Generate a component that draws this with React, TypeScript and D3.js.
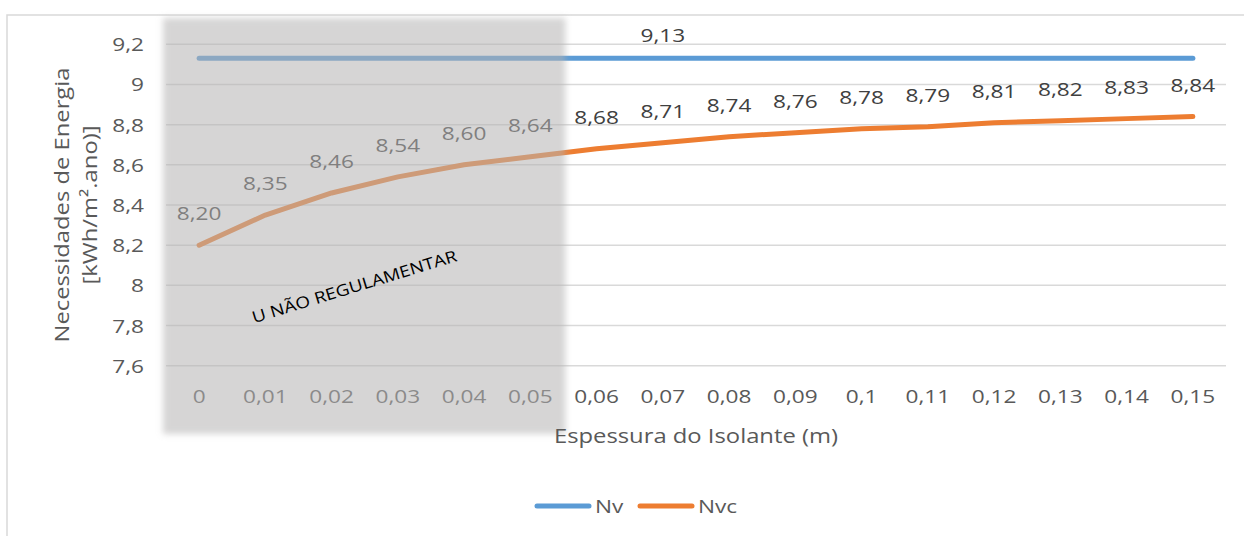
import React from "react";
import * as d3 from "d3";

const categories: string[] = ["0","0,01","0,02","0,03","0,04","0,05","0,06","0,07","0,08","0,09","0,1","0,11","0,12","0,13","0,14","0,15"];
const nvValues: number[] = [9.13,9.13,9.13,9.13,9.13,9.13,9.13,9.13,9.13,9.13,9.13,9.13,9.13,9.13,9.13,9.13];
const nvcValues: number[] = [8.20,8.35,8.46,8.54,8.60,8.64,8.68,8.71,8.74,8.76,8.78,8.79,8.81,8.82,8.83,8.84];
const yTicks: number[] = [7.6,7.8,8.0,8.2,8.4,8.6,8.8,9.0,9.2];
const nvLabelIndex = 7;
const shadedCategories: string[] = ["0","0,01","0,02","0,03","0,04","0,05"];

const W = 1244, H = 536;
const FONT = "'Open Sans', sans-serif";
const SX = 1.19;
const fmtTick = (v: number) => d3.format("~r")(+v.toFixed(1)).replace(".", ",");
const fmtLabel = (v: number) => v.toFixed(2).replace(".", ",");

function T(props: { x: number; y: number; anchor?: string; size?: number; fill?: string; rotate?: number; children: React.ReactNode }) {
  const { x, y, anchor = "start", size = 19, fill = "#595959", rotate = 0, children } = props;
  return (
    <g transform={`translate(${x},${y}) rotate(${rotate}) scale(${SX},1)`}>
      <text x={0} y={0} textAnchor={anchor} fontFamily={FONT} fontSize={size} fill={fill}>
        {children}
      </text>
    </g>
  );
}

export default function App() {
  const x = d3.scaleBand<string>().domain(categories).range([166, 1226]).padding(0);
  const y = d3.scaleLinear().domain([7.6, 9.2]).range([365.7, 44.3]);
  const cx = (i: number) => (x(categories[i]) as number) + x.bandwidth() / 2;
  const line = d3.line<number>().x((_, i) => cx(i)).y((d) => y(d));

  const boxLeft = (x(shadedCategories[0]) as number) - 3;
  const boxRight = (x(shadedCategories[shadedCategories.length - 1]) as number) + x.bandwidth() + 2;

  return (
    <svg width={W} height={H} style={{ position: "absolute", left: 0, top: 0, background: "#fff" }}>
      <defs>
        <filter id="soft" x="-10%" y="-10%" width="120%" height="120%">
          <feGaussianBlur stdDeviation="3" />
        </filter>
      </defs>
      <rect x={7} y={15} width={W} height={H} fill="#fff" stroke="#d9d9d9" strokeWidth={1.5} />
      {yTicks.map((t) => (
        <line key={"g" + t} x1={166} x2={1226} y1={y(t)} y2={y(t)} stroke="#d9d9d9" strokeWidth={1.5} />
      ))}
      {yTicks.map((t) => (
        <T key={"t" + t} x={144} y={y(t) + 7} anchor="end">{fmtTick(t)}</T>
      ))}
      {categories.map((c, i) => (
        <T key={"x" + c} x={cx(i)} y={403} anchor="middle">{c}</T>
      ))}
      <path d={line(nvValues) as string} fill="none" stroke="#5b9bd5" strokeWidth={5} strokeLinecap="round" strokeLinejoin="round" />
      <path d={line(nvcValues) as string} fill="none" stroke="#ed7d31" strokeWidth={5} strokeLinecap="round" strokeLinejoin="round" />
      {nvcValues.map((v, i) => (
        <T key={"l" + i} x={cx(i)} y={y(v) - 25} anchor="middle" fill="#404040">{fmtLabel(v)}</T>
      ))}
      <T x={cx(nvLabelIndex)} y={y(nvValues[nvLabelIndex]) - 16} anchor="middle" fill="#404040">
        {fmtLabel(nvValues[nvLabelIndex])}
      </T>
      <rect x={boxLeft} y={18} width={boxRight - boxLeft} height={416} fill="rgb(180,178,179)" fillOpacity={0.55} filter="url(#soft)" />
      <T x={356} y={292} rotate={-17} anchor="middle" size={16} fill="#000">U NÃO REGULAMENTAR</T>
      <T x={696} y={443} anchor="middle" size={20}>Espessura do Isolante (m)</T>
      <g transform="translate(0,0)">
        <g transform="translate(69,205) rotate(-90) scale(1.19,1)">
          <text x={0} y={0} textAnchor="middle" fontFamily={FONT} fontSize={20} fill="#595959">Necessidades de Energia</text>
          <text x={0} y={28} textAnchor="middle" fontFamily={FONT} fontSize={20} fill="#595959">[kWh/m².ano)]</text>
        </g>
      </g>
      <line x1={537} x2={589} y1={506} y2={506} stroke="#5b9bd5" strokeWidth={5} strokeLinecap="round" />
      <T x={595} y={513}>Nv</T>
      <line x1={640} x2={692} y1={506} y2={506} stroke="#ed7d31" strokeWidth={5} strokeLinecap="round" />
      <T x={698} y={513}>Nvc</T>
    </svg>
  );
}
